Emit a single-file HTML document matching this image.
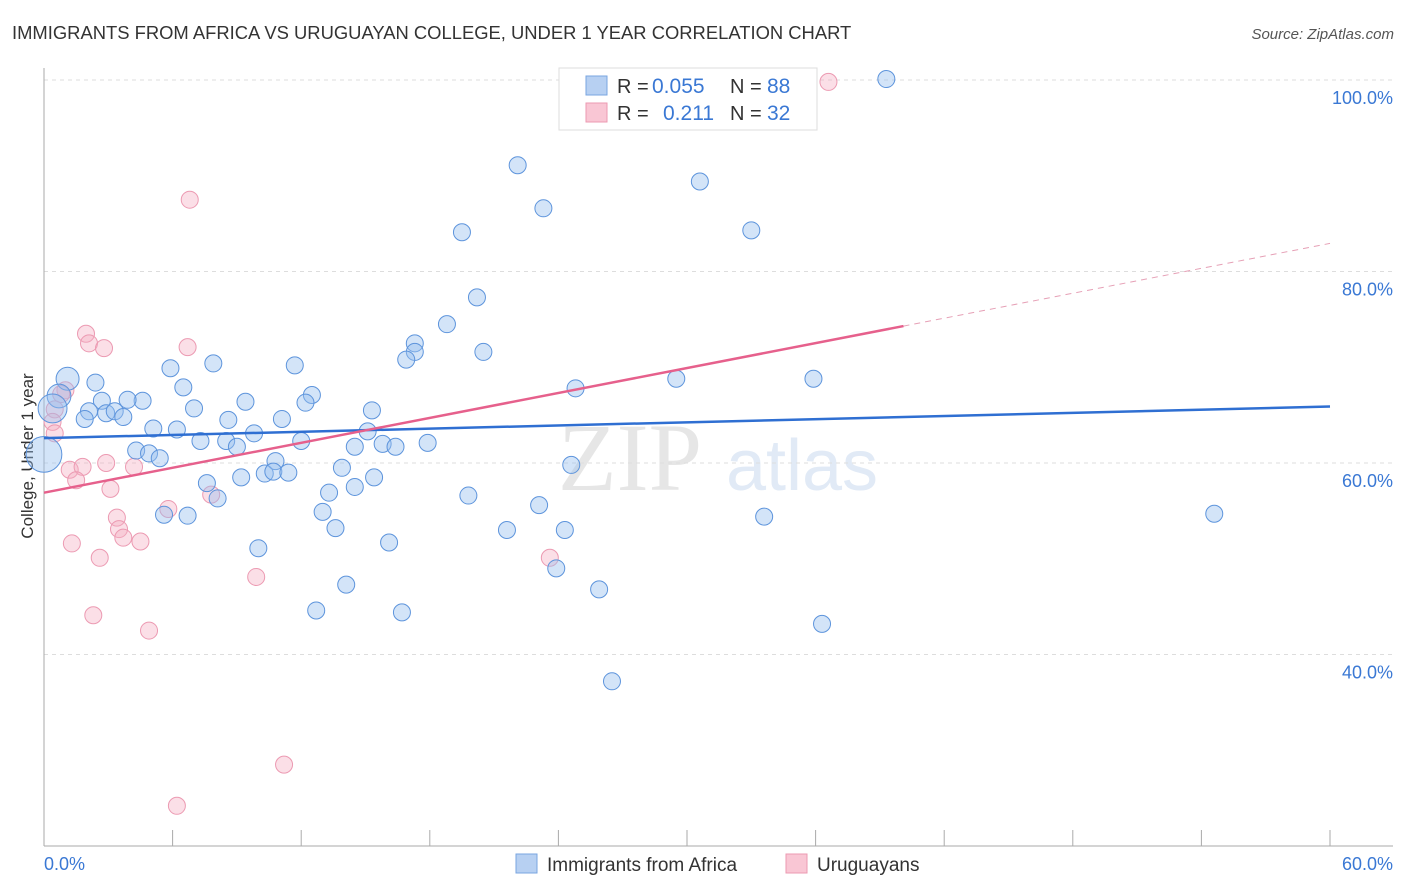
<!DOCTYPE html>
<html><head><meta charset="utf-8">
<style>
body{margin:0;background:#fff;font-family:"Liberation Sans",sans-serif;}
#wrap{position:relative;width:1406px;height:892px;overflow:hidden;}
svg{position:absolute;left:0;top:0;}
</style></head>
<body>
<div id="wrap">
<svg id="chart" width="1406" height="892">
  <text x="12" y="39" font-size="18.4" fill="#333">IMMIGRANTS FROM AFRICA VS URUGUAYAN COLLEGE, UNDER 1 YEAR CORRELATION CHART</text>
  <text x="1394" y="39" font-size="15" fill="#555" text-anchor="end" font-style="italic">Source: ZipAtlas.com</text>
  <text x="33" y="456" font-size="17" fill="#333" text-anchor="middle" transform="rotate(-90 33 456)">College, Under 1 year</text>
  <g>
    <text x="630" y="490" font-size="96" fill="#e6e6e6" font-family="Liberation Serif,serif" text-anchor="middle">ZIP</text>
    <text x="802" y="490" font-size="72" fill="#e1eaf6" text-anchor="middle">atlas</text>
  </g>
  <g id="grid"></g>
  <g id="axes"></g>
  <g id="points"></g>
  <g id="trends"></g>
  <g>
    <rect x="559" y="68" width="258" height="62" fill="#fff" stroke="#ddd"/>
    <rect x="586" y="76" width="21" height="19" fill="#b7d0f2" stroke="#7aa6e0"/>
    <text x="617" y="93" font-size="20" fill="#333">R = </text>
    <text x="652" y="93" font-size="21" fill="#3a78d4">0.055</text>
    <text x="730" y="93" font-size="20" fill="#333">N = </text>
    <text x="767" y="93" font-size="21" fill="#3a78d4">88</text>
    <rect x="586" y="103" width="21" height="19" fill="#f9c6d4" stroke="#ec9ab2"/>
    <text x="617" y="120" font-size="20" fill="#333">R = </text>
    <text x="663" y="120" font-size="21" fill="#3a78d4">0.211</text>
    <text x="730" y="120" font-size="20" fill="#333">N = </text>
    <text x="767" y="120" font-size="21" fill="#3a78d4">32</text>
  </g>
  <g>
    <rect x="516" y="854" width="21" height="19" fill="#b7d0f2" stroke="#7aa6e0"/>
    <text x="547" y="871" font-size="19" fill="#333">Immigrants from Africa</text>
    <rect x="786" y="854" width="21" height="19" fill="#f9c6d4" stroke="#ec9ab2"/>
    <text x="817" y="871" font-size="19" fill="#333">Uruguayans</text>
  </g>
</svg>
</div>
<script>
const yTicks=[40,60,80,100];
const xTickLabels=["0.0%","60.0%"];
const blueX=[39.3,22.1,30.6,23.3,19.5,33.0,20.2,18.8,17.3,17.3,16.9,20.5,11.7,7.9,5.9,24.8,29.5,35.9,6.5,2.4,1.1,0.7,0.4,0,12.5,12.2,4.6,3.9,9.4,2.7,2.1,2.9,3.3,3.7,1.9,7.0,15.3,8.6,11.1,5.1,6.2,9.8,15.1,7.3,8.5,9.0,12.0,14.5,15.8,16.4,17.9,4.3,4.9,5.4,10.8,13.9,24.6,9.2,10.3,10.7,11.4,15.4,7.6,14.5,8.1,13.3,19.8,23.1,13.0,5.6,6.7,33.6,54.6,13.6,21.6,24.3,16.1,10.0,23.9,14.1,25.9,12.7,16.7,36.3,26.5];
const blueY=[100.1,91.1,89.4,86.6,84.1,84.3,77.3,74.5,72.5,71.6,70.8,71.6,70.2,70.4,69.9,67.8,68.8,68.8,67.9,68.4,68.8,67.0,65.7,60.9,67.1,66.3,66.5,66.6,66.4,66.5,65.4,65.2,65.4,64.8,64.6,65.7,65.5,64.5,64.6,63.6,63.5,63.1,63.3,62.3,62.3,61.7,62.3,61.7,62.0,61.7,62.1,61.3,61.0,60.5,60.2,59.5,59.8,58.5,58.9,59.1,59.0,58.5,57.9,57.5,56.3,56.9,56.6,55.6,54.9,54.6,54.5,54.4,54.7,53.2,53.0,53.0,51.7,51.1,49.0,47.3,46.8,44.6,44.4,43.2,37.2];
const blueSize=[1,1,1,1,1,1,1,1,1,1,1,1,1,1,1,1,1,1,1,1,1.35,1.4,1.7,2.1,1,1,1,1,1,1,1,1,1,1,1,1,1,1,1,1,1,1,1,1,1,1,1,1,1,1,1,1,1,1,1,1,1,1,1,1,1,1,1,1,1,1,1,1,1,1,1,1,1,1,1,1,1,1,1,1,1,1,1,1,1];
const pinkX=[36.6,6.8,1.96,2.1,2.8,6.7,1.0,0.8,0.5,0.4,0.5,1.2,1.8,2.9,4.2,1.5,3.1,7.8,5.8,3.4,3.5,3.7,4.5,1.3,2.6,23.6,9.9,2.3,4.9,11.2,6.2];
const pinkY=[99.8,87.5,73.5,72.5,72.0,72.1,67.6,67.2,65.6,64.3,63.1,59.3,59.6,60.0,59.6,58.2,57.3,56.7,55.2,54.3,53.1,52.2,51.8,51.6,50.1,50.1,48.1,44.1,42.5,28.5,24.2];
const blueTrend=[62.6,65.9];
const pinkTrend=[56.9,74.3];
const pinkSolidEnd=40.1;

const NS="http://www.w3.org/2000/svg";
const X0=44,X1=1330,YTOP=80,YBOT=846;
function sx(v){return X0+(v/60)*(X1-X0);}
function sy(v){return YBOT-((v-20)/80)*(YBOT-YTOP);}
function mk(tag,attrs,parent){const e=document.createElementNS(NS,tag);for(const k in attrs)e.setAttribute(k,attrs[k]);parent.appendChild(e);return e;}
const grid=document.getElementById('grid'),axes=document.getElementById('axes'),pts=document.getElementById('points'),tr=document.getElementById('trends');
yTicks.forEach(t=>{
  const l=mk('line',{x1:X0,x2:1393,y1:sy(t),y2:sy(t),stroke:'#ddd','stroke-dasharray':'4,4'},grid);
  
  
  const tx=mk('text',{x:1393,y:sy(t)+24,'font-size':18,fill:'#3a78d4','text-anchor':'end'},grid);
  tx.textContent=t.toFixed(1)+'%';
  
  
});
const ya=mk('line',{x1:X0,x2:X0,y1:68,y2:YBOT,stroke:'#aaa'},axes);


const xa=mk('line',{x1:X0,x2:1393,y1:YBOT,y2:YBOT,stroke:'#aaa'},axes);


for(let i=0;i<=10;i++){
  const tk=mk('line',{x1:sx(i*6),x2:sx(i*6),y1:YBOT-16,y2:YBOT,stroke:'#aaa'},axes);
  
  
}
const xl0=mk('text',{x:44,y:870,'font-size':18,fill:'#3a78d4'},axes);xl0.textContent=xTickLabels[0];


const xl1=mk('text',{x:1393,y:870,'font-size':18,fill:'#3a78d4','text-anchor':'end'},axes);xl1.textContent=xTickLabels[1];


pinkX.forEach((x,i)=>{
  const c=mk('circle',{cx:sx(x),cy:sy(pinkY[i]),r:8.5,fill:'rgba(246,175,196,0.4)',stroke:'#ec9ab2','stroke-width':1},pts);
  
  
});
blueX.forEach((x,i)=>{
  const c=mk('circle',{cx:sx(x),cy:sy(blueY[i]),r:8.5*blueSize[i],fill:'rgba(150,190,238,0.42)',stroke:'#5d94dc','stroke-width':1},pts);
  
  
});
const bl=mk('line',{x1:sx(0),y1:sy(blueTrend[0]),x2:sx(60),y2:sy(blueTrend[1]),stroke:'#2f6fd2','stroke-width':2.5},tr);


const slope=(pinkTrend[1]-pinkTrend[0])/pinkSolidEnd;
const pl=mk('line',{x1:sx(0),y1:sy(pinkTrend[0]),x2:sx(pinkSolidEnd),y2:sy(pinkTrend[1]),stroke:'#e6608c','stroke-width':2.5},tr);


const pd=mk('line',{x1:sx(pinkSolidEnd),y1:sy(pinkTrend[1]),x2:sx(60),y2:sy(pinkTrend[0]+slope*60),stroke:'#e6a0b6','stroke-width':1,'stroke-dasharray':'6,5'},tr);


</script>
</body></html>
